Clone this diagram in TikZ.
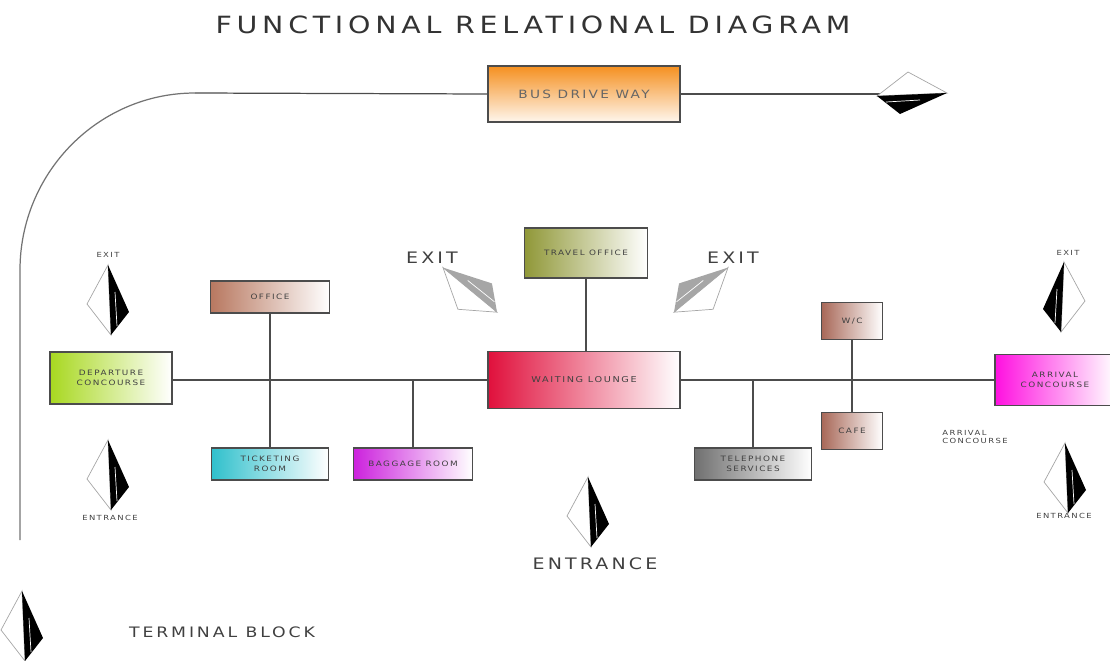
\documentclass[tikz,border=0pt]{standalone}
\usepackage{fontspec}
\newfontfamily\widefont[FakeStretch=1.2,LetterSpace=20]{DejaVu Sans}
\usetikzlibrary{positioning}

\definecolor{limefade}{RGB}{168,216,32}
\definecolor{officebrown}{RGB}{184,120,96}
\definecolor{ticketcyan}{RGB}{48,192,204}
\definecolor{baggagemag}{RGB}{204,34,221}
\definecolor{travelolive}{RGB}{144,152,56}
\definecolor{waitred}{RGB}{224,16,60}
\definecolor{phonegrey}{RGB}{112,112,112}
\definecolor{wcbrown}{RGB}{168,104,88}
\definecolor{arrivalmag}{RGB}{255,16,224}
\definecolor{busorange}{RGB}{245,144,32}

\tikzset{
  pics/sign/.style={code={
    \draw[black!35, line width=0.4pt, fill=white] (0,-35) -- (-21,4) -- (3,35) -- cycle;
    \fill[#1] (0,-35) -- (21,12) -- (3,35) -- cycle;
    \draw[white, line width=0.4pt] (7,-8) -- (9,26);
  }}
}

\begin{document}
\begin{tikzpicture}
	[x=0.02cm, y=-0.02cm,
	room/.style={draw=black!70, line width=0.7pt, text=black!75, align=center,
		inner sep=1pt, font=\widefont\fontsize{4.2}{5.5}\selectfont},
	fade/.style={left color=#1, right color=white},
	link/.style={draw=black!70, line width=0.7pt},
	tag/.style={text=black!75, align=left, inner sep=1pt,
		font=\widefont\fontsize{4}{5}\selectfont},
	bigtag/.style={text=black!75, inner sep=1pt,
		font=\widefont\fontsize{9}{11}\selectfont}]
	\useasboundingbox (0,0) rectangle (1110,660);
	% title
	\node (title) [bigtag, text=black!80, font=\widefont\fontsize{13.5}{15}\selectfont] at (533,25) {FUNCTIONAL RELATIONAL DIAGRAM};
	% bus drive way
	\node (bus) [room, minimum width=3.84cm, minimum height=1.12cm, top color=busorange, bottom color=busorange!8,
		font=\widefont\fontsize{6.5}{8}\selectfont, text=black!60] at (584,94) {BUS DRIVE WAY};
	\coordinate (bend) at (195,93);
	\coordinate (busend) at (880,94);
	\coordinate (roadend) at (20,540);
	\draw [link] (bend) -- (bus.west);
	\draw [link] (bus.east) -- (busend);
	\draw [link, black!55] (bend) .. controls (98,93) and (20,173) .. (20,270) -- (roadend);
	% rooms
	\node (dep) [room, fade=limefade, minimum width=2.44cm, minimum height=1.04cm] at (111,378) {DEPARTURE\\CONCOURSE};
	\node (office) [room, fade=officebrown, minimum width=2.38cm, minimum height=0.64cm] at (270,297) {OFFICE};
	\node (ticket) [room, fade=ticketcyan, minimum width=2.34cm, minimum height=0.64cm] at (270,464) {TICKETING\\ROOM};
	\node (baggage) [room, fade=baggagemag, minimum width=2.38cm, minimum height=0.64cm] at (413,464) {BAGGAGE ROOM};
	\node (travel) [room, fade=travelolive, minimum width=2.46cm, minimum height=1.0cm] at (586,253) {TRAVEL OFFICE};
	\node (wait) [room, fade=waitred, minimum width=3.84cm, minimum height=1.14cm,
		font=\widefont\fontsize{4.6}{6}\selectfont] at (584,380) {WAITING LOUNGE};
	\node (phone) [room, fade=phonegrey, minimum width=2.34cm, minimum height=0.64cm] at (753,464) {TELEPHONE\\SERVICES};
	\node (wc) [room, fade=wcbrown, minimum width=1.22cm, minimum height=0.74cm] at (852,321) {W/C};
	\node (cafe) [room, fade=wcbrown, minimum width=1.22cm, minimum height=0.74cm] at (852,431) {CAFE};
	\node (arr) [room, fade=arrivalmag, minimum width=2.4cm, minimum height=1.02cm] at (1055,380) {ARRIVAL\\CONCOURSE};
	% connectors
	\draw [link] (dep.east |- wait.west) -- (wait.west);
	\draw [link] (wait.east) -- (arr.west);
	\draw [link] (office.south) -- (ticket.north);
	\draw [link] (baggage.north) -- (baggage.north |- wait.west);
	\draw [link] (travel.south) -- (travel.south |- wait.north);
	\draw [link] (phone.north) -- (phone.north |- wait.east);
	\draw [link] (wc.south) -- (cafe.north);
	% signs
	\pic at (912,93) [rotate=-90] {sign=black};
	\pic at (108,300) {sign=black};
	\pic at (108,475) {sign=black};
	\pic at (588,512) {sign=black};
	\pic at (1064,297) [xscale=-1] {sign=black};
	\pic at (1065,478) {sign=black};
	\pic at (22,626) {sign=black};
	\pic at (469,291) [rotate=48] {sign=black!35};
	\pic at (702,291) [rotate=-48, xscale=-1] {sign=black!35};
	% labels
	\node (exitL) [tag] at (108,255) {EXIT};
	\node (entL) [tag] at (110,518) {ENTRANCE};
	\node (exitR) [tag] at (1068,253) {EXIT};
	\node (entR) [tag] at (1064,516) {ENTRANCE};
	\node (arrtag) [tag] at (975,437) {ARRIVAL\\CONCOURSE};
	\node (exitA) [bigtag] at (432,258) {EXIT};
	\node (exitB) [bigtag] at (733,258) {EXIT};
	\node (entC) [bigtag] at (595,564) {ENTRANCE};
	\node (terminal) [bigtag, font=\widefont\fontsize{8.2}{10}\selectfont] at (222,632) {TERMINAL BLOCK};
\end{tikzpicture}
\end{document}
